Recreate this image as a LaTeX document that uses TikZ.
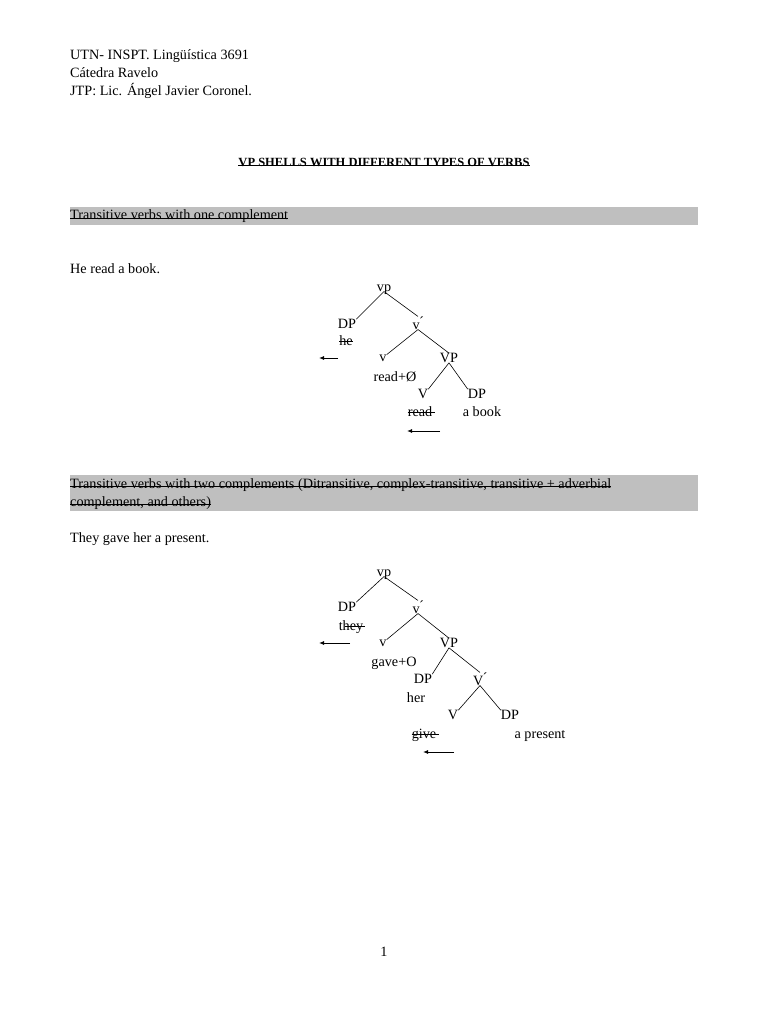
\documentclass[tikz,border=0pt]{standalone}
\usepackage{fontspec}
\setmainfont{Liberation Serif}
\usetikzlibrary{arrows.meta}
\begin{document}
\begin{tikzpicture}[x=1pt,y=-1pt,
  every node/.style={font=\fontsize{14.2}{16.5}\selectfont,inner sep=0pt,text depth=0pt},
  t/.style={anchor=base west},
  c/.style={anchor=base},
  ln/.style={line width=0.6pt},
  arr/.style={line width=0.9pt,-{Latex[length=5pt,width=4pt]}}]
\useasboundingbox (0,0) rectangle (768,1024);
\fill[white] (0,0) rectangle (768,1024);
\fill[black!25] (70,207) rectangle (698,225);
\fill[black!25] (70,475) rectangle (698,511);
\node[t] (h1) at (70,60) {UTN- INSPT. Lingüística 3691};
\node[t] (h2) at (70,78) {Cátedra Ravelo};
\node[t] (h3) at (70,96) {JTP: Lic. Ángel Javier Coronel.};
\node[c,font=\bfseries\fontsize{12.5}{15}\selectfont] (ttl) at (384,167) {VP SHELLS WITH DIFFERENT TYPES OF VERBS};
\draw[ln] ([yshift=2pt]ttl.base west) -- ([yshift=2pt]ttl.base east);
\node[t] (s1) at (70,220) {Transitive verbs with one complement};
\node[t] (s2a) at (70,488) {Transitive verbs with two complements (Ditransitive, complex-transitive, transitive + adverbial };
\node[t] (s2b) at (70,506) {complement, and others)};
\node[t] (e1) at (70,273) {He read a book.};
\node[t] (e2) at (70,542) {They gave her a present.};
\node[c] (pg) at (384,956) {1};
% underlines
\draw[ln] ([yshift=2pt]s1.base west) -- ([yshift=2pt]s1.base east);
\draw[ln] ([yshift=2pt]s2a.base west) -- ([yshift=2pt]s2a.base east);
\draw[ln] ([yshift=2pt]s2b.base west) -- ([yshift=2pt]s2b.base east);
% tree 1
\node (a) at (384,288) {vp};
\node (b) at (347,324) {DP};
\node (bw) at (346,341) {he};
\node (cc) at (418,323) {v\'{}};
\node (d) at (383,358) {v};
\node (dw) at (395,377) {read+Ø};
\node (e) at (449,358) {VP};
\node (f) at (423,394) {V};
\node (fw) at (420,412) {read};
\node (g) at (477,394) {DP};
\node (gw) at (482,412) {a book};
\draw[ln] (a.south) -- (b.north east);
\draw[ln] (a.south) -- (cc.north);
\draw[ln] (cc.south) -- (d.north east);
\draw[ln] (cc.south) -- (e.north);
\draw[ln] (e.south) -- (f.north east);
\draw[ln] (e.south) -- (g.north west);
\draw[ln] (bw.west) -- (bw.east);
\draw[ln] (fw.west) -- ([xshift=3pt]fw.east);
\coordinate (ar1s) at (338,358); \coordinate (ar1e) at (319,358);
\coordinate (ar2s) at (440,431); \coordinate (ar2e) at (407,431);
\draw[arr] (ar1s) -- (ar1e);
\draw[arr] (ar2s) -- (ar2e);
% tree 2
\node (A) at (384,573) {vp};
\node (B) at (347,607) {DP};
\node (Bw) at (351,626) {they};
\node (C) at (418,607) {v\'{}};
\node (D) at (383,643) {v};
\node (Dw) at (394,662) {gave+O};
\node (E) at (449,643) {VP};
\node (F) at (423,679) {DP};
\node (Fw) at (416,698) {her};
\node (G) at (480,679) {V\'{}};
\node (H) at (453,715) {V};
\node (Hw) at (424,734) {give};
\node (I) at (510,715) {DP};
\node (Iw) at (540,734) {a present};
\draw[ln] (A.south) -- (B.north east);
\draw[ln] (A.south) -- (C.north);
\draw[ln] (C.south) -- (D.north east);
\draw[ln] (C.south) -- (E.north);
\draw[ln] (E.south) -- (F.north east);
\draw[ln] (E.south) -- (G.north);
\draw[ln] (G.south) -- (H.north east);
\draw[ln] (G.south) -- (I.north west);
\draw[ln] ([xshift=6pt]Bw.west) -- ([xshift=2pt]Bw.east);
\draw[ln] (Hw.west) -- ([xshift=3pt]Hw.east);
\coordinate (ar3s) at (350,643); \coordinate (ar3e) at (319,643);
\coordinate (ar4s) at (454,752); \coordinate (ar4e) at (423,752);
\draw[arr] (ar3s) -- (ar3e);
\draw[arr] (ar4s) -- (ar4e);
\end{tikzpicture}
\end{document}
